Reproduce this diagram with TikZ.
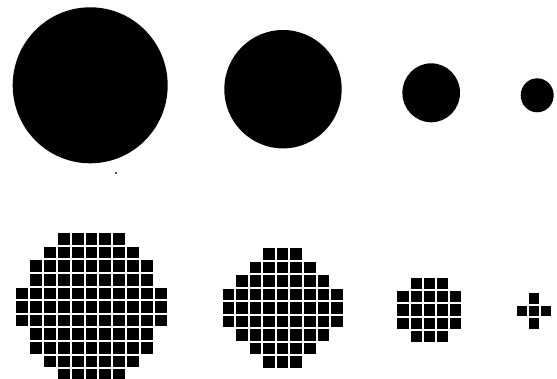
\documentclass[tikz,border=0pt]{standalone}
\newcommand\pixgrid[5]{%
  \foreach \st/\nn [count=\r from 0] in {#5}{%
    \foreach \c in {1,...,\nn}{%
      \fill[pix] ({#1+(\st+\c-1)*#3},{#2+\r*#4}) rectangle ++({#3-2},{#4-2});
    }}}
\begin{document}
\begin{tikzpicture}[x=1pt,y=-1pt,pix/.style={fill=black},disc/.style={fill=black}]
\useasboundingbox[fill=white] (0,0) rectangle (557,379);
% top row: discs
\fill[disc] (90.2,85.3) ellipse [x radius=77.5, y radius=78];
\fill[disc] (283,89.2) ellipse [x radius=58.7, y radius=59.2];
\fill[disc] (431.2,92.8) ellipse [x radius=28.8, y radius=29.5];
\fill[disc] (537.2,95.3) ellipse [x radius=16.5, y radius=17];
% specks
\fill[disc] (116,173) ellipse [x radius=1.3, y radius=0.9];
% bottom row: pixel approximations
\pixgrid{16}{233.3}{13.9}{13.6}{3/5,2/7,1/9,1/9,0/11,0/11,0/11,1/9,1/9,2/7,3/5}
\pixgrid{222.7}{248.3}{13.55}{13.5}{3/3,2/5,1/7,0/9,0/9,0/9,1/7,2/5,3/3}
\pixgrid{397.3}{277.7}{13.2}{13.3}{1/3,0/5,0/5,0/5,1/3}
\pixgrid{516.7}{293}{12.2}{12.7}{1/1,0/3,1/1}
\end{tikzpicture}
\end{document}
